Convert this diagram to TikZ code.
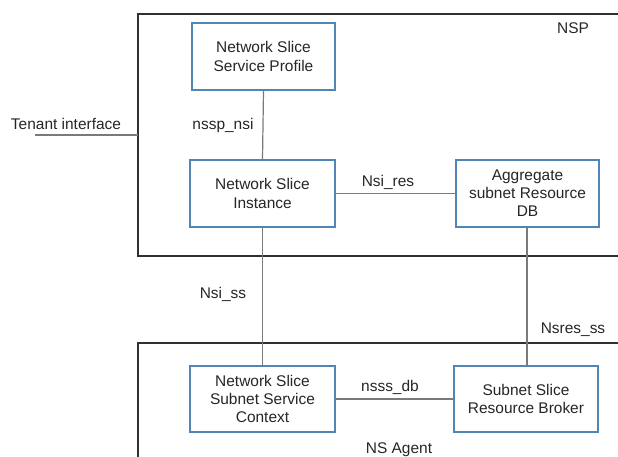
\documentclass[tikz,border=0pt]{standalone}
\usepackage{fontspec}
\setmainfont{Liberation Sans}
\definecolor{boxblue}{HTML}{4F86B5}
\definecolor{linegray}{HTML}{7A7A7A}
\definecolor{framegray}{HTML}{303030}
\begin{document}
\begin{tikzpicture}[x=0.75pt,y=-0.75pt,
  every node/.style={font=\fontsize{11.6}{13.6}\selectfont, text=black!85},
  comp/.style={draw=boxblue, line width=1.1pt, fill=white, align=center, inner sep=0pt},
  conn/.style={draw=linegray, line width=0.9pt},
  frame/.style={draw=framegray, line width=1.3pt},
  lbl/.style={inner sep=1pt}]
\useasboundingbox (0,0) rectangle (618,457);
% containers
\draw[frame] (640,14) -- (138,14) -- (138,256) -- (640,256);
\draw[frame] (640,343) -- (138,343) -- (138,470);
% components
\node[comp, minimum width=107pt, minimum height=50pt] (nssp) at (263.5,56.5) {Network Slice\\Service Profile};
\node[comp, minimum width=108.5pt, minimum height=50pt] (nsi) at (262.5,193.5) {Network Slice\\Instance};
\node[comp, minimum width=107pt, minimum height=50pt] (asr) at (527.5,193.5) {Aggregate\\subnet Resource\\DB};
\node[comp, minimum width=108.5pt, minimum height=49.5pt] (nssc) at (262.5,399) {Network Slice\\Subnet Service\\Context};
\node[comp, minimum width=108pt, minimum height=49.5pt] (ssrb) at (526,399) {Subnet Slice\\Resource Broker};
% connectors
\draw[conn] (nssp.south) -- (nsi.north);
\draw[conn] (nsi.east) -- (asr.west);
\draw[conn] (nsi.south) -- (nssc.north);
\draw[conn] (asr.south -| 527,0) -- (ssrb.north -| 527,0);
\draw[conn] (nssc.east) -- (ssrb.west);
\coordinate (tstart) at (35,135);
\coordinate (tend) at (138,135);
\draw[conn] (tstart) -- (tend);
% labels
\node[lbl] (nsplbl) at (573,28) {NSP};
\node[lbl] (agentlbl) at (399,450) {NS Agent};
\node[lbl] (tenant) at (66,124) {Tenant interface};
\node[lbl] (l1) at (223,125) {nssp\_nsi};
\node[lbl] (l2) at (388,182) {Nsi\_res};
\node[lbl] (l3) at (223,294) {Nsi\_ss};
\node[lbl] (l4) at (573,330) {Nsres\_ss};
\node[lbl] (l5) at (390,387) {nsss\_db};
\end{tikzpicture}
\end{document}
